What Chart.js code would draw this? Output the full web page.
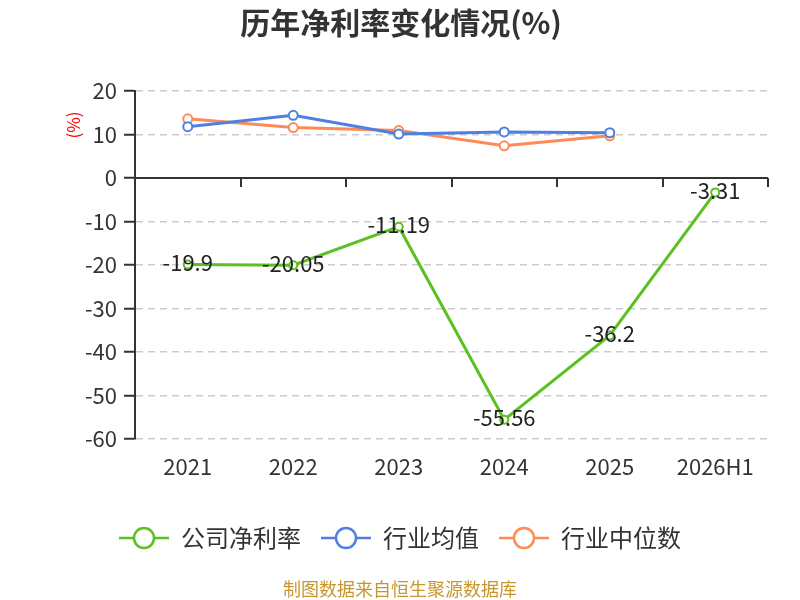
<!DOCTYPE html>
<html>
<head>
<meta charset="utf-8">
<script src="https://cdn.jsdelivr.net/npm/chart.js@4.4.1/dist/chart.umd.min.js"></script>
<style>
  html, body { margin: 0; padding: 0; background: #fff; }
  #wrap { width: 800px; height: 600px; }
</style>
</head>
<body>
<div id="wrap"><canvas id="netMarginChart" width="800" height="600"></canvas></div>
<script>
const years = ['2021', '2022', '2023', '2024', '2025', '2026H1'];
const companyMargin = [-19.9, -20.05, -11.19, -55.56, -36.2, -3.31];
const industryAvg = [11.8, 14.4, 10.1, 10.6, 10.4, null];
const industryMedian = [13.6, 11.6, 10.9, 7.4, 9.7, null];
const yTicks = [20, 10, 0, -10, -20, -30, -40, -50, -60];

const GREEN = '#5BC122';
const BLUE = '#4E80E2';
const ORANGE = '#FF8A55';
const FONT = '"Noto Sans CJK SC", "Noto Sans", sans-serif';

// legend icon: short line with a hollow circle in the middle
const makeIcon = (color) => {
    const c = document.createElement('canvas');
    c.width = 50;
    c.height = 26;
    const g = c.getContext('2d');
    g.strokeStyle = color;
    g.lineWidth = 2.5;
    g.beginPath();
    g.moveTo(0, 13);
    g.lineTo(50, 13);
    g.stroke();
    g.beginPath();
    g.arc(25, 13, 10, 0, Math.PI * 2);
    g.fillStyle = '#fff';
    g.fill();
    g.stroke();
    return c;
};
const icons = [makeIcon(GREEN), makeIcon(BLUE), makeIcon(ORANGE)];

const extras = {
    id: 'extras',
    beforeDatasetsDraw(chart) {
        const { ctx, chartArea, scales: { x, y } } = chart;
        const y0 = y.getPixelForValue(0);
        ctx.save();
        ctx.strokeStyle = '#333';
        ctx.lineWidth = 2;
        ctx.beginPath();
        ctx.moveTo(chartArea.left, y0);
        ctx.lineTo(chartArea.right, y0);
        for (let i = 0; i <= years.length; i++) {
            const px = Math.round(x.getPixelForValue(i - 0.5));
            ctx.moveTo(px, y0);
            ctx.lineTo(px, y0 + 9);
        }
        ctx.stroke();
        ctx.restore();
    },
    afterDatasetsDraw(chart) {
        const { ctx } = chart;
        const meta = chart.getDatasetMeta(0);
        ctx.save();
        ctx.font = '22px ' + FONT;
        ctx.fillStyle = '#222';
        ctx.textAlign = 'center';
        ctx.textBaseline = 'middle';
        meta.data.forEach((pt, i) => {
            ctx.fillText(String(companyMargin[i]), pt.x, pt.y - 2);
        });
        ctx.restore();
    },
    afterDraw(chart) {
        const { ctx, chartArea } = chart;
        ctx.save();
        ctx.textAlign = 'center';
        ctx.textBaseline = 'middle';
        ctx.fillStyle = '#333';
        ctx.font = 'bold 30px ' + FONT;
        ctx.fillText('历年净利率变化情况(%)', 401, 23);
        ctx.fillStyle = '#C8962E';
        ctx.font = '18px ' + FONT;
        ctx.fillText('制图数据来自恒生聚源数据库', 400, 589);
        ctx.translate(74, chartArea.top + 34);
        ctx.rotate(-Math.PI / 2);
        ctx.fillStyle = '#FF0000';
        ctx.font = '17px ' + FONT;
        ctx.fillText('(%)', 0, 0);
        ctx.restore();
    }
};

const lineStyle = (color, r) => ({
    borderColor: color,
    backgroundColor: color,
    borderWidth: 3,
    pointRadius: r,
    pointHoverRadius: r,
    pointBackgroundColor: '#fff',
    pointBorderColor: color,
    pointBorderWidth: 2,
    tension: 0,
    fill: false
});

new Chart(document.getElementById('netMarginChart'), {
    type: 'line',
    data: {
        labels: years,
        datasets: [
            Object.assign({ label: '公司净利率', data: companyMargin }, lineStyle(GREEN, 4)),
            Object.assign({ label: '行业均值', data: industryAvg }, lineStyle(BLUE, 4.5)),
            Object.assign({ label: '行业中位数', data: industryMedian }, lineStyle(ORANGE, 4.5))
        ]
    },
    options: {
        responsive: false,
        animation: false,
        devicePixelRatio: 1,
        layout: { padding: { top: 91, left: 0, right: 0, bottom: 40 } },
        plugins: {
            title: { display: false },
            tooltip: { enabled: false },
            legend: {
                position: 'bottom',
                labels: {
                    usePointStyle: true,
                    pointStyleWidth: 50,
                    padding: 20,
                    color: '#333',
                    font: { size: 24, family: FONT },
                    generateLabels(chart) {
                        const items = Chart.defaults.plugins.legend.labels.generateLabels(chart);
                        items.forEach((it, i) => { it.pointStyle = icons[i]; });
                        return items;
                    }
                }
            }
        },
        scales: {
            x: {
                offset: true,
                grid: { display: false, drawTicks: false },
                border: { display: false },
                ticks: { color: '#333', padding: 14, font: { size: 22, family: FONT } },
                afterFit(scale) { scale.height = 67; }
            },
            y: {
                min: -60,
                max: 20,
                afterBuildTicks(scale) { scale.ticks = yTicks.map(v => ({ value: v })); },
                grid: {
                    color: '#cccccc',
                    lineWidth: 1.5,
                    tickColor: '#333',
                    tickLength: 11,
                    tickWidth: 2,
                    tickBorderDash: []
                },
                border: { display: true, color: '#333', width: 2, dash: [7, 5] },
                ticks: { color: '#333', padding: 7, font: { size: 22, family: FONT } },
                afterFit(scale) { scale.width = 135; }
            },
            // empty right-hand spacer so the legend stays centred on the page
            spacer: {
                type: 'linear',
                position: 'right',
                grid: { display: false, drawTicks: false },
                border: { display: false },
                ticks: { display: false },
                afterFit(scale) { scale.width = 32; }
            }
        }
    },
    plugins: [extras]
});
</script>
</body>
</html>
